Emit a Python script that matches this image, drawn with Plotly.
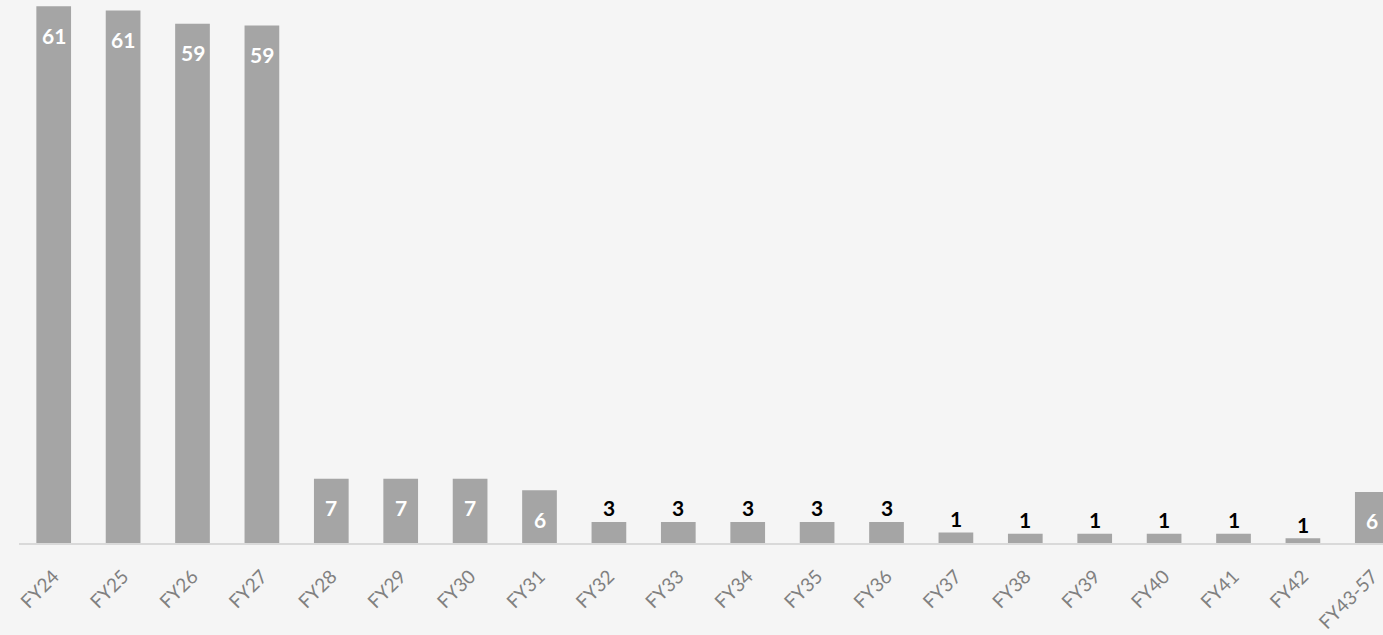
import plotly.graph_objects as go

categories = ["FY24", "FY25", "FY26", "FY27", "FY28", "FY29", "FY30", "FY31", "FY32", "FY33",
              "FY34", "FY35", "FY36", "FY37", "FY38", "FY39", "FY40", "FY41", "FY42", "FY43-57"]
values = [61.0, 60.5, 59.0, 58.8, 7.3, 7.3, 7.3, 6.0, 2.4, 2.4,
          2.4, 2.4, 2.4, 1.2, 1.05, 1.05, 1.05, 1.05, 0.55, 5.8]
labels = ["61", "61", "59", "59", "7", "7", "7", "6", "3", "3",
          "3", "3", "3", "1", "1", "1", "1", "1", "1", "6"]

BAR = "#a5a5a5"
BG = "#f5f5f5"
INSIDE_MIN = 5  # values at or above this get white labels inside the bar

fig = go.Figure()
fig.add_trace(go.Bar(x=list(range(len(categories))), y=values, marker=dict(color=BAR, line=dict(width=0)),
                     hoverinfo="skip"))

for i, (v, t) in enumerate(zip(values, labels)):
    inside = v >= INSIDE_MIN
    fig.add_annotation(x=i, y=v, text=f"<b>{t}</b>", showarrow=False,
                       yshift=-29 if inside else 14,
                       font=dict(family="Lato", size=21, color="white" if inside else "black"))

fig.update_layout(
    width=1383, height=635,
    margin=dict(l=19, r=0, t=0, b=92, autoexpand=False),
    paper_bgcolor=BG, plot_bgcolor=BG,
    bargap=0.5, showlegend=False,
    xaxis=dict(range=[-0.5, 19.154], tickmode="array", tickvals=list(range(len(categories))),
               ticktext=categories, tickangle=-45, showgrid=False, zeroline=False,
               showline=True, linecolor="#d9d9d9", linewidth=2, ticks="", automargin=False,
               ticklabelstandoff=13,
               tickfont=dict(family="Lato", size=19, color="#808080")),
    yaxis=dict(range=[0, 61.7], visible=False, showgrid=False, zeroline=False, automargin=False),
)

fig.write_html("out.html", config={"displayModeBar": False},
               post_script="document.body.style.margin='0';document.body.style.overflow='hidden';")
